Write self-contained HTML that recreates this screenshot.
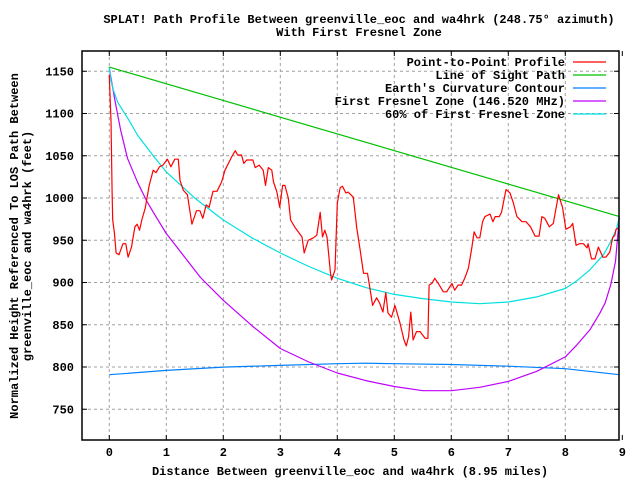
<!DOCTYPE html>
<html><head><meta charset="utf-8"><style>
html,body{margin:0;padding:0;background:#fff;}
svg text{font-family:"Liberation Mono",monospace;font-weight:bold;font-size:12px;fill:#000;}
</style></head><body>
<svg id="chart" width="640" height="480" xmlns="http://www.w3.org/2000/svg">
<text x="359" y="23" text-anchor="middle">SPLAT! Path Profile Between greenville_eoc and wa4hrk (248.75° azimuth)</text>
<text x="359" y="36" text-anchor="middle">With First Fresnel Zone</text>
<text x="350" y="475" text-anchor="middle">Distance Between greenville_eoc and wa4hrk (8.95 miles)</text>
<text transform="translate(18,246) rotate(-90)" text-anchor="middle">Normalized Height Referenced To LOS Path Between</text>
<text transform="translate(31,246) rotate(-90)" text-anchor="middle">greenville_eoc and wa4hrk (feet)</text>
<g id="grid"></g><g id="series"></g><g id="axes"></g><g id="legend"></g>
</svg>
<script>
const xTicks=[0,1,2,3,4,5,6,7,8,9];
const yTicks=[750,800,850,900,950,1000,1050,1100,1150];
const profileD=[0,0.01,0.03,0.05,0.06,0.09,0.12,0.17,0.24,0.29,0.33,0.39,0.42,0.45,0.49,0.53,0.57,0.63,0.70,0.77,0.82,0.88,0.94,1.02,1.08,1.15,1.21,1.24,1.30,1.37,1.45,1.53,1.59,1.64,1.70,1.75,1.82,1.89,1.97,2.03,2.15,2.21,2.25,2.32,2.36,2.41,2.52,2.56,2.63,2.70,2.74,2.79,2.85,2.88,2.94,2.99,3.04,3.08,3.14,3.18,3.26,3.38,3.42,3.49,3.58,3.64,3.70,3.74,3.78,3.82,3.88,3.90,3.96,4.00,4.05,4.09,4.15,4.19,4.28,4.34,4.40,4.46,4.53,4.57,4.62,4.69,4.74,4.80,4.85,4.89,4.95,5.01,5.10,5.17,5.21,5.25,5.29,5.33,5.39,5.45,5.54,5.59,5.61,5.66,5.71,5.79,5.86,5.92,6.01,6.06,6.12,6.18,6.24,6.30,6.36,6.40,6.45,6.50,6.55,6.59,6.68,6.73,6.77,6.84,6.88,6.96,7.03,7.09,7.15,7.24,7.31,7.39,7.47,7.54,7.59,7.64,7.72,7.79,7.88,7.95,8.01,8.09,8.13,8.19,8.25,8.32,8.38,8.40,8.46,8.52,8.58,8.66,8.71,8.78,8.83,8.87,8.89,8.95];
const profileF=[1146,1125,1092,1007,974,959,935,933,946,946,930,942,954,966,969,962,974,988,1015,1033,1030,1037,1039,1046,1037,1046,1046,1021,1009,1004,969,985,985,976,992,989,1008,1008,1019,1033,1049,1056,1051,1051,1041,1045,1045,1036,1039,1033,1015,1036,1033,1019,1007,989,1015,1015,1000,974,965,954,935,950,953,956,983,954,962,954,911,903,915,994,1012,1014,1006,1007,1001,965,939,911,911,894,873,882,876,865,888,864,859,873,852,832,825,836,865,832,842,842,834,834,897,899,905,897,889,889,899,891,897,897,906,917,941,960,953,953,972,978,981,972,978,978,983,1010,1006,994,978,972,972,966,955,955,978,976,966,970,1004,989,963,966,970,944,946,946,941,946,928,928,942,930,930,936,953,956,963,965];
const losD=[0,8.95];
const losF=[1155,978];
const earthD=[0,1,2,3,4,4.5,5,6,7,8,8.95];
const earthF=[791,796,800,802,804,804.5,804,803,801,798,791];
const fresnelD=[0,0.02,0.04,0.1,0.2,0.32,0.5,0.66,0.8,1,1.3,1.6,2,2.5,3,3.5,4,4.5,5,5.5,6,6.5,7,7.5,8,8.2,8.43,8.6,8.7,8.8,8.88,8.95];
const fresnelF=[1155,1146,1138,1115,1080,1047,1018,996,980,958,932,906,879,849,822,806,793,784,777,772,772,776,783,795,812,826,844,863,876,898,925,978];
const fresnel60D=[0,0.01,0.03,0.07,0.15,0.32,0.5,0.77,1,1.5,2,2.5,3,3.5,4,4.5,5,5.5,6,6.5,7,7.5,8,8.2,8.43,8.67,8.81,8.9,8.95];
const fresnel60F=[1155,1148,1139,1128,1113,1095,1074,1050,1031,1000,974,953,935,919,905,894,886,881,877,875,877,883,893,902,915,933,950,964,978];
const legendLabels=["Point-to-Point Profile","Line of Sight Path","Earth's Curvature Contour","First Fresnel Zone (146.520 MHz)","60% of First Fresnel Zone"];
const colors=["#ff0000","#00c000","#0080ff","#c000ff","#00e0e0"];

const L=82,R=619,T=51,B=440;
const sx=d=>109.3+57*d;
const sy=f=>71.3+(1150-f)*0.845;
const NS="http://www.w3.org/2000/svg";
function mk(tag,attrs,parent){const e=document.createElementNS(NS,tag);for(const k in attrs)e.setAttribute(k,attrs[k]);parent.appendChild(e);return e;}
const grid=document.getElementById('grid'),axes=document.getElementById('axes'),series=document.getElementById('series'),legend=document.getElementById('legend');

xTicks.forEach(t=>{const x=sx(t);
 if(t<9){const g=mk('line',{x1:x,x2:x,y1:T,y2:B,stroke:'#a0a0a0','stroke-dasharray':'3,3'},grid);
 
 }
 const tk=mk('path',{d:`M${x},${B}v-5M${x},${T}v5`,stroke:'#000'},axes);
 
 
 const lb=mk('text',{x:x,y:456,'text-anchor':'middle'},axes);lb.textContent=t;
 
 
});
yTicks.forEach(t=>{const y=sy(t);
 const g=mk('line',{x1:L,x2:R,y1:y,y2:y,stroke:'#a0a0a0','stroke-dasharray':'3,3'},grid);
 
 
 const tk=mk('path',{d:`M${L},${y}h5M${R},${y}h-5`,stroke:'#000'},axes);
 
 
 const lb=mk('text',{x:74,y:y+4,'text-anchor':'end'},axes);lb.textContent=t;
 
 
});
const frame=mk('rect',{x:L,y:T,width:R-L,height:B-T,fill:'none',stroke:'#000','stroke-width':1.5},axes);



const sets=[[profileD,profileF,'profile-line'],[losD,losF,'line-of-sight-line'],[earthD,earthF,'earth-curvature-line'],[fresnelD,fresnelF,'fresnel-zone-line'],[fresnel60D,fresnel60F,'fresnel-60-line']];
const order=[2,3,4,1,0];
order.forEach(i=>{const [D,F,n]=sets[i];
 const pts=D.map((d,j)=>sx(d).toFixed(1)+','+sy(F[j]).toFixed(1)).join(' ');
 const p=mk('polyline',{points:pts,fill:'none',stroke:colors[i],'stroke-width':1.2,'stroke-linejoin':'round'},series);
 
 
});
legendLabels.forEach((lab,i)=>{const y=62+13*i;
 const t=mk('text',{x:565,y:y+4,'text-anchor':'end'},legend);t.textContent=lab;
 
 
 const l=mk('line',{x1:573,x2:606,y1:y,y2:y,stroke:colors[i],'stroke-width':1.2},legend);
 
 
});
</script>
</body></html>
